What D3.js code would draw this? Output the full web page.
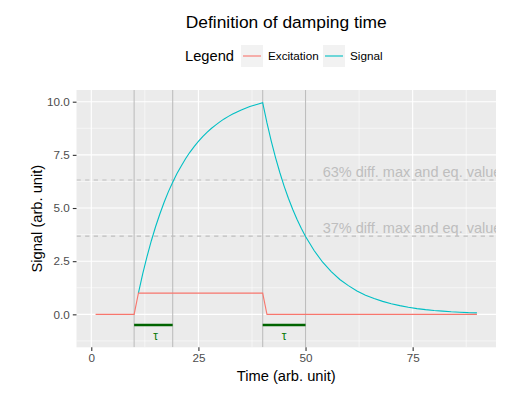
<!DOCTYPE html>
<html>
<head>
<meta charset="utf-8">
<script src="https://cdn.jsdelivr.net/npm/d3@7"></script>
<style>
  body { margin: 0; background: #fff; }
  text { font-family: "Liberation Sans", Arial, sans-serif; }
</style>
</head>
<body>
<script>
// data
const excitationT = [1, 10, 11, 40, 41, 90];
const excitationV = [0, 0, 1, 1, 0, 0];

const signalT = [11, 12, 13, 14, 15, 16, 17, 18, 19, 20, 21, 22, 23, 24, 25, 26, 27, 28, 29, 30,
  31, 32, 33, 34, 35, 36, 37, 38, 39, 40, 41, 42, 43, 44, 45, 46, 47, 48, 49, 50,
  52, 54, 56, 58, 60, 62, 64, 66, 68, 70, 72, 74, 76, 78, 80, 82, 84, 86, 88, 90];
const signalV = [1.00, 1.90, 2.71, 3.45, 4.12, 4.72, 5.27, 5.77, 6.21, 6.62, 6.98, 7.32, 7.62, 7.89, 8.13, 8.36, 8.56, 8.74, 8.90, 9.05,
  9.19, 9.31, 9.42, 9.52, 9.61, 9.69, 9.77, 9.83, 9.89, 9.95, 9.00, 8.15, 7.37, 6.67, 6.03, 5.46, 4.94, 4.47, 4.05, 3.66,
  3.00, 2.45, 2.01, 1.64, 1.35, 1.10, 0.90, 0.74, 0.61, 0.50, 0.41, 0.33, 0.27, 0.22, 0.18, 0.15, 0.12, 0.10, 0.08, 0.07];

const markerTimes = [10, 19, 40, 50];
const levelValues = [6.32, 3.68];
const levelLabels = ["63% diff. max and eq. value", "37% diff. max and eq. value"];
const tauStart = [10, 40];
const tauEnd = [19, 50];
const tauLabelT = [15, 45];

const seriesNames = ["Excitation", "Signal"];
const seriesColors = ["#F8766D", "#00BFC4"];

const xTicks = [0, 25, 50, 75];
const yTicks = [0, 2.5, 5, 7.5, 10];

let margin = null, width = null, height = null;
let svg = null, plot = null;
let x, y = null;

main();

function main() {
  setupCanvasSize();
  appendSvg("body");
  setupXScale();
  setupYScale();
  appendPanel();
  appendMarkers();
  appendLines();
  appendTau();
  appendXAxis();
  appendYAxis();
  addTitle();
  addLegend();
}

function setupCanvasSize() {
  margin = { top: 90, left: 76.5, bottom: 51.7, right: 21 };
  width = 517 - margin.left - margin.right;
  height = 399 - margin.top - margin.bottom;
}

function appendSvg(domElement) {
  svg = d3.select(domElement).append("svg")
    .attr("width", 517)
    .attr("height", 399);
  svg.append("rect").attr("width", 517).attr("height", 399).attr("fill", "#fff");
  svg.append("clipPath").attr("id", "clip")
    .append("rect").attr("width", width).attr("height", height);
  plot = svg.append("g")
    .attr("transform", `translate(${margin.left}, ${margin.top})`);
}

function setupXScale() {
  x = d3.scaleLinear().domain([-3.45, 94.45]).range([0, width]);
}

function setupYScale() {
  y = d3.scaleLinear().domain([-1.55, 10.55]).range([height, 0]);
}

function appendPanel() {
  plot.append("rect").attr("width", width).attr("height", height).attr("fill", "#ebebeb");
  const xMinor = [12.5, 37.5, 62.5, 87.5];
  const yMinor = [-1.25, 1.25, 3.75, 6.25, 8.75];
  const g = plot.append("g");
  g.selectAll(".xminor").data(xMinor).enter().append("line")
    .attr("x1", d => x(d)).attr("x2", d => x(d)).attr("y1", 0).attr("y2", height)
    .attr("stroke", "#fff").attr("stroke-width", 0.55);
  g.selectAll(".yminor").data(yMinor).enter().append("line")
    .attr("y1", d => y(d)).attr("y2", d => y(d)).attr("x1", 0).attr("x2", width)
    .attr("stroke", "#fff").attr("stroke-width", 0.55);
  g.selectAll(".xmajor").data(xTicks).enter().append("line")
    .attr("x1", d => x(d)).attr("x2", d => x(d)).attr("y1", 0).attr("y2", height)
    .attr("stroke", "#fff").attr("stroke-width", 1.1);
  g.selectAll(".ymajor").data(yTicks).enter().append("line")
    .attr("y1", d => y(d)).attr("y2", d => y(d)).attr("x1", 0).attr("x2", width)
    .attr("stroke", "#fff").attr("stroke-width", 1.1);
}

function appendMarkers() {
  const g = plot.append("g").attr("clip-path", "url(#clip)");
  g.selectAll(".vline").data(markerTimes).enter().append("line")
    .attr("x1", d => x(d)).attr("x2", d => x(d)).attr("y1", 0).attr("y2", height)
    .attr("stroke", "#bebebe").attr("stroke-width", 1.1);
  g.selectAll(".hline").data(levelValues).enter().append("line")
    .attr("y1", d => y(d)).attr("y2", d => y(d)).attr("x1", 0).attr("x2", width)
    .attr("stroke", "#bebebe").attr("stroke-width", 1.1)
    .attr("stroke-dasharray", "4.3,4.3");
  g.selectAll(".lvl").data(levelValues).enter().append("text")
    .attr("x", x(54))
    .attr("y", d => y(d) - 3)
    .attr("fill", "#bebebe")
    .style("font-size", "14.5px")
    .text((d, i) => levelLabels[i]);
}

function appendLines() {
  const line = d3.line().x(d => x(d[0])).y(d => y(d[1]));
  const sig = signalT.map((t, i) => [t, signalV[i]]);
  const exc = excitationT.map((t, i) => [t, excitationV[i]]);
  plot.append("path").datum(sig)
    .attr("d", line).attr("fill", "none")
    .attr("stroke", seriesColors[1]).attr("stroke-width", 1.1);
  plot.append("path").datum(exc)
    .attr("d", line).attr("fill", "none")
    .attr("stroke", seriesColors[0]).attr("stroke-width", 1.1);
}

function appendTau() {
  plot.selectAll(".tau").data(tauStart).enter().append("line")
    .attr("x1", d => x(d)).attr("x2", (d, i) => x(tauEnd[i]))
    .attr("y1", y(-0.5)).attr("y2", y(-0.5))
    .attr("stroke", "#006400").attr("stroke-width", 2.6);
  plot.selectAll(".taulbl").data(tauLabelT).enter().append("text")
    .attr("x", d => x(d)).attr("y", y(-1))
    .attr("dy", "0.35em")
    .attr("text-anchor", "middle")
    .attr("fill", "#0a7a0a")
    .style("font-size", "12px")
    .text("τ");
}

function styleAxis(g) {
  g.select(".domain").remove();
  g.selectAll(".tick line").attr("stroke", "#333").attr("stroke-width", 1.1);
  g.selectAll(".tick text").attr("fill", "#4d4d4d").style("font-size", "11.7px");
}

function appendXAxis() {
  const g = plot.append("g")
    .attr("transform", `translate(0, ${height})`)
    .call(d3.axisBottom(x).tickValues(xTicks).tickSize(3.7).tickPadding(3).tickFormat(d3.format("d")));
  styleAxis(g);
  plot.append("text")
    .attr("x", width / 2).attr("y", height + 34)
    .attr("text-anchor", "middle")
    .style("font-size", "14.7px")
    .text("Time (arb. unit)");
}

function appendYAxis() {
  const g = plot.append("g")
    .call(d3.axisLeft(y).tickValues(yTicks).tickSize(3.7).tickPadding(3).tickFormat(d3.format(".1f")));
  styleAxis(g);
  plot.append("text")
    .attr("transform", `translate(-35, ${height / 2}) rotate(-90)`)
    .attr("text-anchor", "middle")
    .style("font-size", "14.7px")
    .text("Signal (arb. unit)");
}

function addTitle() {
  svg.append("text")
    .attr("x", margin.left + width / 2)
    .attr("y", 28)
    .attr("text-anchor", "middle")
    .style("font-size", "17.4px")
    .text("Definition of damping time");
}

function addLegend() {
  const g = svg.append("g").attr("transform", "translate(185, 56)");
  g.append("text").attr("x", 0).attr("y", 0).attr("dy", "0.35em")
    .style("font-size", "14.7px").text("Legend");
  const keyX = [56, 138];
  const items = g.selectAll(".item").data(seriesNames).enter().append("g")
    .attr("transform", (d, i) => `translate(${keyX[i]}, 0)`);
  items.append("rect").attr("x", 0).attr("y", -11).attr("width", 22).attr("height", 22)
    .attr("fill", "#f2f2f2");
  items.append("line").attr("x1", 2).attr("x2", 20).attr("y1", 0).attr("y2", 0)
    .attr("stroke", (d, i) => seriesColors[i]).attr("stroke-width", 1.1);
  items.append("text").attr("x", 27).attr("y", 0).attr("dy", "0.35em")
    .style("font-size", "11.7px").text(d => d);
}
</script>
</body>
</html>
